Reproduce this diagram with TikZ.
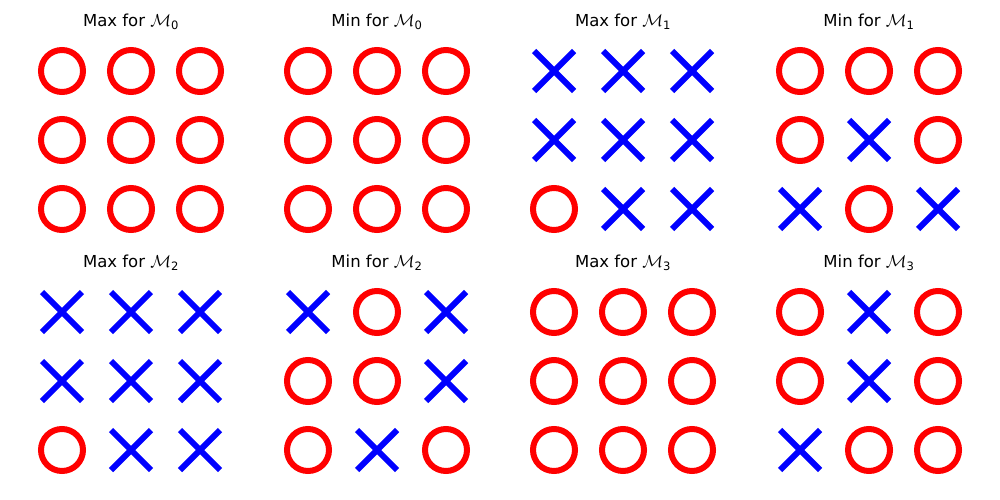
\documentclass[tikz,border=0pt]{standalone}
\usepackage{amsmath}
\usepackage{fontspec}
\setmainfont{DejaVu Sans}
\begin{document}
\begin{tikzpicture}[x=1pt, y=-1pt, line width=6pt, font=\fontsize{16.5}{19}\selectfont,
	declare function={r=21; d=20; dx=69;}]
	\tikzset{ring/.style={draw=red}, cross/.style={draw=blue}}
	\useasboundingbox (0,0) rectangle (1000,500);
	
	\foreach \t/\m/\cx/\cy/\cells [count=\p] in {
		Max/0/62/71/{O,O,O,O,O,O,O,O,O},
		Min/0/308/71/{O,O,O,O,O,O,O,O,O},
		Max/1/554/71/{X,X,X,X,X,X,O,X,X},
		Min/1/800/71/{O,O,O,O,X,O,X,O,X},
		Max/2/62/312/{X,X,X,X,X,X,O,X,X},
		Min/2/308/312/{X,O,X,O,O,X,O,X,O},
		Max/3/554/312/{O,O,O,O,O,O,O,O,O},
		Min/3/800/312/{O,X,O,O,X,O,X,O,O}} {
		\node (title\p) at (\cx+dx,\cy-49) {\t{} for $\mathcal{M}_{\text{\m}}$};
		\foreach \c [count=\k from 0] in \cells {
			\pgfmathsetmacro{\px}{\cx+dx*mod(\k,3)}
			\pgfmathsetmacro{\py}{\cy+dx*int(\k/3)}
			\path (\px,\py) coordinate (cell\p-\k);
			\if\c O
				\draw[ring] (cell\p-\k) circle (r);
			\else
				\draw[cross] (cell\p-\k) ++(-d,-d) -- ++(2*d,2*d);
				\draw[cross] (cell\p-\k) ++(-d,d) -- ++(2*d,-2*d);
			\fi
		}
	}
\end{tikzpicture}
\end{document}
